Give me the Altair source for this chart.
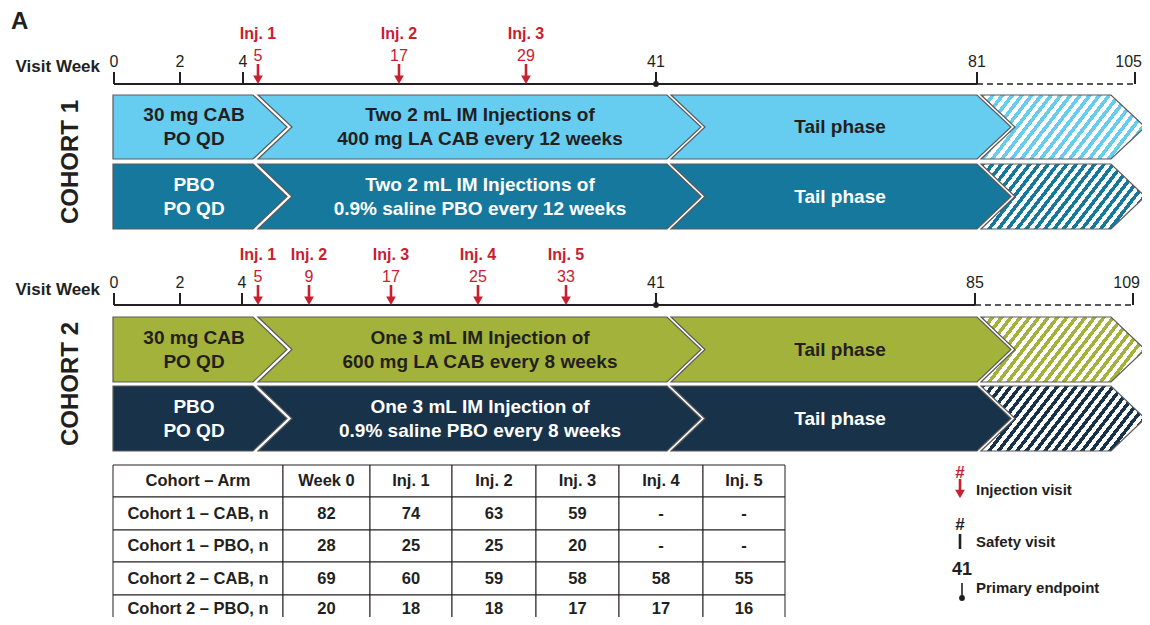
import altair as alt
import pandas as pd

# ======================= DATA =======================
c1_visit_weeks = [0, 2, 4, 41, 81, 105]
c1_injection_weeks = [5, 17, 29]
c1_tail_end, c1_followup_end = 81, 105

c2_visit_weeks = [0, 2, 4, 41, 85, 109]
c2_injection_weeks = [5, 9, 17, 25, 33]
c2_tail_end, c2_followup_end = 85, 109

primary_endpoint_week = 41

cohort_labels = ["COHORT 1", "COHORT 2"]
arm_names = ["Cohort 1 – CAB", "Cohort 1 – PBO", "Cohort 2 – CAB", "Cohort 2 – PBO"]
arm_colors = ["#66CCF0", "#17789D", "#A3B23A", "#18324A"]
arm_text_colors = ["#231F20", "#FFFFFF", "#231F20", "#FFFFFF"]
oral_phase_text = [["30 mg CAB", "PO QD"], ["PBO", "PO QD"],
                   ["30 mg CAB", "PO QD"], ["PBO", "PO QD"]]
injection_phase_text = [["Two 2 mL IM Injections of", "400 mg LA CAB every 12 weeks"],
                        ["Two 2 mL IM Injections of", "0.9% saline PBO every 12 weeks"],
                        ["One 3 mL IM Injection of", "600 mg LA CAB every 8 weeks"],
                        ["One 3 mL IM Injection of", "0.9% saline PBO every 8 weeks"]]
tail_phase_text = [["Tail phase"]] * 4

table_header = ["Cohort – Arm", "Week 0", "Inj. 1", "Inj. 2", "Inj. 3", "Inj. 4", "Inj. 5"]
table_row_labels = ["Cohort 1 – CAB, n", "Cohort 1 – PBO, n", "Cohort 2 – CAB, n", "Cohort 2 – PBO, n"]
n_week0 = [82, 28, 69, 20]
n_inj1 = [74, 25, 60, 18]
n_inj2 = [63, 25, 59, 18]
n_inj3 = [59, 20, 58, 17]
n_inj4 = [None, None, 58, 17]
n_inj5 = [None, None, 55, 16]

legend_symbols = ["#", "#", "41"]
legend_labels = ["Injection visit", "Safety visit", "Primary endpoint"]

# ======================= LAYOUT / STYLE =======================
W, H = 1134, 609
X0, Y0 = 8, 8           # page margin; layout numbers below are page pixels
INK = "#231F20"
RED = "#C8202F"
OUTLINE = "#5A5A5A"
FONT = "Liberation Sans"

px_x = alt.Scale(domain=[X0, X0 + W], range=[0, W], nice=False, zero=False)
px_y = alt.Scale(domain=[Y0, Y0 + H], range=[0, H], nice=False, zero=False)

# week -> page-pixel anchors of each cohort's (non-uniform) visit axis
c1_axis_px = {0: 114, 2: 180, 4: 243, 5: 258, 17: 399, 29: 526, 41: 656, 81: 977, 105: 1135}
c2_axis_px = {0: 114, 2: 180, 4: 242, 5: 258, 9: 309, 17: 391, 25: 478, 33: 566,
              41: 656, 85: 975, 109: 1133}

rows_top = [95, 164, 317, 386]
rows_bot = [159, 229, 382, 451]
seg_left = [113, 258, 671, 981]
seg_right = [253, 667, 977, 1111]
NOTCH = 34
seg_text_x = [194, 480, 840]

col_edges = [113, 283, 370, 452, 536, 619, 703, 785]
row_edges = [465, 497, 530, 562, 595, 622]


def PX(f):
    return alt.X(f, type="quantitative", scale=px_x, axis=None)


def PY(f):
    return alt.Y(f, type="quantitative", scale=px_y, axis=None)


def timeline(visits, injections, tail_end, fu_end, anchors, line_y, vw_y):
    wk = sorted(anchors)
    sc = alt.Scale(domain=wk, range=[anchors[w] - X0 for w in wk], nice=False, zero=False)

    def WX(f):
        return alt.X(f, type="quantitative", scale=sc, axis=None)

    layers = []
    solid = pd.DataFrame({"w0": [visits[0]], "w1": [tail_end], "y": [line_y]})
    layers.append(alt.Chart(solid).mark_rule(color=INK, strokeWidth=2.2)
                  .encode(x=WX("w0"), x2="w1", y=PY("y")))
    dashed = pd.DataFrame({"w0": [tail_end], "w1": [fu_end], "y": [line_y]})
    layers.append(alt.Chart(dashed).mark_rule(color=INK, strokeWidth=1.6, strokeDash=[6, 4])
                  .encode(x=WX("w0"), x2="w1", y=PY("y")))
    ticks = pd.DataFrame({"w": visits, "y": [line_y] * len(visits),
                          "y2": [line_y - 12] * len(visits),
                          "lab": [str(v) for v in visits],
                          "ly": [line_y - 22] * len(visits)})
    layers.append(alt.Chart(ticks).mark_rule(color=INK, strokeWidth=2)
                  .encode(x=WX("w"), y=PY("y"), y2="y2"))
    inner, last = ticks.iloc[:-1], ticks.iloc[-1:]
    layers.append(alt.Chart(inner).mark_text(font=FONT, fontSize=16, color=INK,
                                             align="center", baseline="middle")
                  .encode(x=WX("w"), y=PY("ly"), text="lab:N"))
    layers.append(alt.Chart(last).mark_text(font=FONT, fontSize=16, color=INK, dx=7,
                                            align="right", baseline="middle")
                  .encode(x=WX("w"), y=PY("ly"), text="lab:N"))
    pe = pd.DataFrame({"w": [primary_endpoint_week], "y": [line_y]})
    layers.append(alt.Chart(pe).mark_point(shape="circle", filled=True, size=34, color=INK, opacity=1)
                  .encode(x=WX("w"), y=PY("y")))
    inj = pd.DataFrame({"w": injections,
                        "ys": [line_y - 20] * len(injections),
                        "ye": [line_y - 7] * len(injections),
                        "yh": [line_y - 4.3] * len(injections),
                        "yn": [line_y - 28] * len(injections),
                        "yl": [line_y - 50] * len(injections),
                        "num": [str(v) for v in injections],
                        "lab": [f"Inj. {i + 1}" for i in range(len(injections))]})
    layers.append(alt.Chart(inj).mark_rule(color=RED, strokeWidth=2.6)
                  .encode(x=WX("w"), y=PY("ys"), y2="ye"))
    layers.append(alt.Chart(inj).mark_point(shape="triangle-down", filled=True, size=95,
                                            color=RED, opacity=1)
                  .encode(x=WX("w"), y=PY("yh")))
    layers.append(alt.Chart(inj).mark_text(font=FONT, fontSize=16, color=RED,
                                           align="center", baseline="middle")
                  .encode(x=WX("w"), y=PY("yn"), text="num:N"))
    layers.append(alt.Chart(inj).mark_text(font=FONT, fontSize=16, fontWeight="bold", color=RED,
                                           align="center", baseline="middle")
                  .encode(x=WX("w"), y=PY("yl"), text="lab:N"))
    vw = pd.DataFrame({"x": [100], "y": [vw_y], "t": ["Visit Week"]})
    layers.append(alt.Chart(vw).mark_text(font=FONT, fontSize=17, fontWeight="bold", color=INK,
                                          align="right", baseline="middle")
                  .encode(x=PX("x"), y=PY("y"), text="t:N"))
    return layers


def stripe_fill(color, w, h, slope=1.3, period=9.5, duty=0.48):
    gx, gy = slope / h, 1.0 / w
    k = (gx + gy) / (gx * gx + gy * gy)
    n = max(1, round((w + h / slope) / period))
    stops = []
    for i in range(n):
        a, b, c = i / n, (i + duty) / n, (i + 1) / n
        stops += [alt.GradientStop(offset=a, color=color),
                  alt.GradientStop(offset=b, color=color),
                  alt.GradientStop(offset=b, color="#FFFFFF"),
                  alt.GradientStop(offset=c, color="#FFFFFF")]
    return alt.LinearGradient(gradient="linear", stops=stops, x1=0, y1=0, x2=k * gx, y2=k * gy)


# ---------- chevron bars ----------
def chevron_points(i, j):
    top, bot = rows_top[i], rows_bot[i]
    mid = (top + bot) / 2
    L, R = seg_left[j], seg_right[j]
    nl = NOTCH if j > 0 else 0
    return [(top, L, R), (mid, L + nl, R + NOTCH), (bot, L, R)]


solid_rows = []
for i in range(len(arm_names)):
    for j in range(3):
        for (yy, xl, xr) in chevron_points(i, j):
            solid_rows.append({"seg": f"{i}-{j}", "y": yy, "xl": xl, "xr": xr,
                               "fill": arm_colors[i]})
solid_df = pd.DataFrame(solid_rows)

layers = []
layers.append(alt.Chart(solid_df).mark_area(orient="horizontal", stroke=OUTLINE, strokeWidth=1.2,
                                            strokeJoin="miter", opacity=1)
              .encode(y=PY("y"), x=alt.X("xl:Q", scale=px_x, axis=None, stack=None), x2="xr:Q",
                      fill=alt.Fill("fill:N", scale=None), detail="seg:N"))

for i in range(len(arm_names)):
    pts = chevron_points(i, 3)
    hdf = pd.DataFrame({"y": [p[0] for p in pts],
                        "xl": [p[1] for p in pts], "xr": [p[2] for p in pts]})
    w = seg_right[3] + NOTCH - seg_left[3]
    h = rows_bot[i] - rows_top[i]
    layers.append(alt.Chart(hdf).mark_area(orient="horizontal", stroke=OUTLINE, strokeWidth=1.2,
                                           strokeJoin="miter", fill=stripe_fill(arm_colors[i], w, h),
                                           opacity=1)
                  .encode(y=PY("y"), x=alt.X("xl:Q", scale=px_x, axis=None, stack=None), x2="xr:Q"))

bar_text_rows = []
for i in range(len(arm_names)):
    mid = (rows_top[i] + rows_bot[i]) / 2
    for j, texts in enumerate([oral_phase_text[i], injection_phase_text[i], tail_phase_text[i]]):
        n = len(texts)
        for li, t in enumerate(texts):
            off = 0 if n == 1 else (-12 if li == 0 else 12)
            bar_text_rows.append({"x": seg_text_x[j], "y": mid + off, "t": t,
                                  "c": arm_text_colors[i]})
bar_text_df = pd.DataFrame(bar_text_rows)
layers.append(alt.Chart(bar_text_df).mark_text(font=FONT, fontSize=19, fontWeight="bold",
                                               align="center", baseline="middle")
              .encode(x=PX("x"), y=PY("y"), text="t:N", color=alt.Color("c:N", scale=None)))

# ---------- cohort side labels & panel letter ----------
coh_df = pd.DataFrame({"x": [71, 71], "y": [(rows_top[0] + rows_bot[1]) / 2, (rows_top[2] + rows_bot[3]) / 2],
                       "t": cohort_labels})
layers.append(alt.Chart(coh_df).mark_text(font=FONT, fontSize=24, fontWeight="bold", color=INK,
                                          angle=270, align="center", baseline="middle")
              .encode(x=PX("x"), y=PY("y"), text="t:N"))
letter_df = pd.DataFrame({"x": [11], "y": [22], "t": ["A"]})
layers.append(alt.Chart(letter_df).mark_text(font=FONT, fontSize=24, fontWeight="bold", color=INK,
                                             align="left", baseline="middle")
              .encode(x=PX("x"), y=PY("y"), text="t:N"))

# ---------- timelines ----------
layers += timeline(c1_visit_weeks, c1_injection_weeks, c1_tail_end, c1_followup_end,
                   c1_axis_px, 84, 67)
layers += timeline(c2_visit_weeks, c2_injection_weeks, c2_tail_end, c2_followup_end,
                   c2_axis_px, 305, 290)

# ---------- table ----------
body = [n_week0, n_inj1, n_inj2, n_inj3, n_inj4, n_inj5]
cells = []
for r in range(len(table_row_labels) + 1):
    for c in range(len(table_header)):
        if r == 0:
            lab = table_header[c]
        elif c == 0:
            lab = table_row_labels[r - 1]
        else:
            v = body[c - 1][r - 1]
            lab = "-" if v is None else str(v)
        cells.append({"x": col_edges[c], "x2": col_edges[c + 1], "y": row_edges[r],
                      "y2": row_edges[r + 1], "cx": (col_edges[c] + col_edges[c + 1]) / 2,
                      "cy": (row_edges[r] + row_edges[r + 1]) / 2, "lab": lab})
cells_df = pd.DataFrame(cells)
layers.append(alt.Chart(cells_df).mark_rect(fill="#FFFFFF", stroke=INK, strokeWidth=1)
              .encode(x=PX("x"), x2="x2", y=PY("y"), y2="y2"))
layers.append(alt.Chart(cells_df).mark_text(font=FONT, fontSize=16.5, fontWeight="bold", color=INK,
                                            align="center", baseline="middle")
              .encode(x=PX("cx"), y=PY("cy"), text="lab:N"))

# ---------- legend ----------
leg_sym = pd.DataFrame({"x": [960, 960, 962], "y": [473, 525, 570], "t": legend_symbols,
                        "c": [RED, INK, INK], "fs": [17, 17, 18]})
layers.append(alt.Chart(leg_sym).mark_text(font=FONT, fontWeight="bold", align="center",
                                           baseline="middle")
              .encode(x=PX("x"), y=PY("y"), text="t:N", color=alt.Color("c:N", scale=None),
                      size=alt.Size("fs:Q", scale=None)))
leg_lab = pd.DataFrame({"x": [976, 976, 976], "y": [490, 542, 588], "t": legend_labels})
layers.append(alt.Chart(leg_lab).mark_text(font=FONT, fontSize=15, fontWeight="bold", color=INK,
                                           align="left", baseline="middle")
              .encode(x=PX("x"), y=PY("y"), text="t:N"))
leg_rules = pd.DataFrame({"x": [960, 960, 962], "y": [479, 534, 583], "y2": [490, 549, 598],
                          "c": [RED, INK, INK], "sw": [2.6, 2.6, 1.6]})
layers.append(alt.Chart(leg_rules).mark_rule()
              .encode(x=PX("x"), y=PY("y"), y2="y2", color=alt.Color("c:N", scale=None),
                      strokeWidth=alt.StrokeWidth("sw:Q", scale=None)))
leg_head = pd.DataFrame({"x": [960], "y": [494]})
layers.append(alt.Chart(leg_head).mark_point(shape="triangle-down", filled=True, size=95,
                                             color=RED, opacity=1)
              .encode(x=PX("x"), y=PY("y")))
leg_dot = pd.DataFrame({"x": [962], "y": [598]})
layers.append(alt.Chart(leg_dot).mark_point(shape="circle", filled=True, size=34, color=INK, opacity=1)
              .encode(x=PX("x"), y=PY("y")))

chart = (alt.layer(*layers)
         .resolve_scale(x="independent")
         .properties(width=W, height=H, padding=0, autosize=alt.AutoSizeParams(type="none"),
                     background="#FFFFFF")
         .configure_view(stroke=None))

chart.save("out.html", embed_options={"renderer": "svg", "actions": False})
